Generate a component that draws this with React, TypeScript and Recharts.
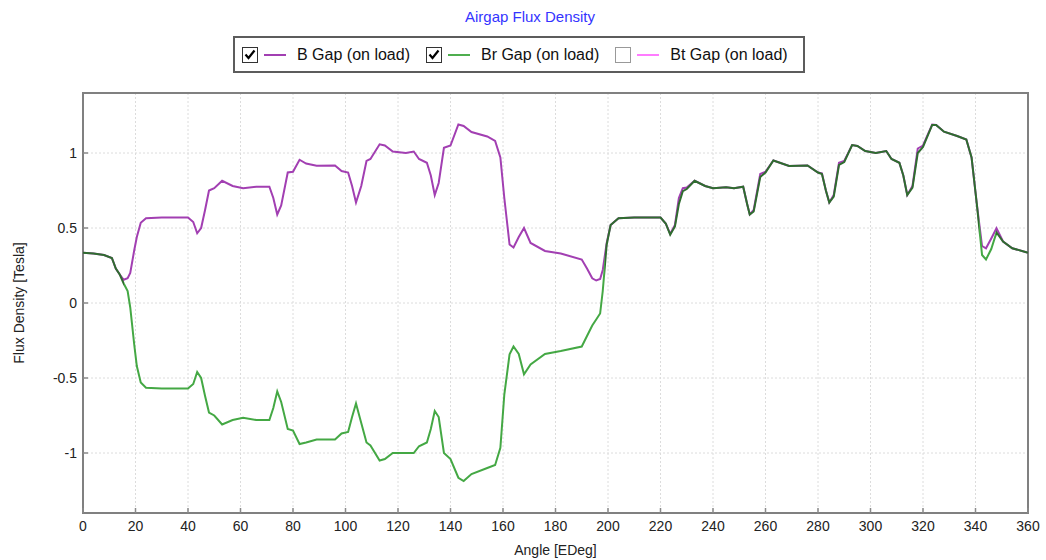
import React from 'react';
import { CartesianGrid, Line, LineChart, ReferenceArea, XAxis, YAxis } from 'recharts';

// angle in electrical degrees, flux density in Tesla
const angles = [
  0, 4, 8, 11, 12.5, 14, 15.5, 17, 18, 19.5, 20.5, 22, 24, 30, 40, 42, 43.5, 45, 46.5, 48, 50, 53, 57, 61, 66,
  71, 72.5, 74, 75.5, 78, 80, 82.5, 85, 89, 96, 98.5, 101, 102.5, 104, 106, 108, 109.5, 113, 115, 118, 123, 126,
  128, 131, 132.5, 134, 135.5, 137.5, 140, 143, 145, 148, 154, 157, 159, 160.5, 162.5, 164, 166, 168, 170.5,
  176, 182, 190, 192, 194, 195.5, 197, 198, 199.5, 201, 204, 210, 220, 222, 223.7, 225.5, 227, 228.5, 230, 233,
  237, 240, 245, 248, 251.5, 253, 254, 255.5, 258, 260, 263, 269, 276, 280, 281.5, 283, 284.3, 286, 288, 290,
  293, 295, 298, 302, 306, 308, 311, 312.5, 314, 316, 318, 320, 323.5, 325, 328, 333, 336.5, 338.5, 340.5,
  342.5, 344, 346, 348, 350.5, 354, 360,
];

const bGap = [
  0.335, 0.33, 0.32, 0.3, 0.23, 0.19, 0.155, 0.165, 0.2, 0.35, 0.44, 0.535, 0.565, 0.57, 0.57, 0.54, 0.465, 0.5,
  0.62, 0.75, 0.765, 0.815, 0.78, 0.765, 0.775, 0.775, 0.7, 0.59, 0.65, 0.87, 0.875, 0.955, 0.93, 0.915, 0.917,
  0.88, 0.87, 0.78, 0.67, 0.78, 0.947, 0.96, 1.058, 1.05, 1.01, 1.0, 1.01, 0.96, 0.935, 0.85, 0.72, 0.8, 1.035,
  1.05, 1.19, 1.18, 1.14, 1.11, 1.08, 0.97, 0.7, 0.39, 0.37, 0.44, 0.5, 0.4, 0.347, 0.33, 0.29, 0.23, 0.165,
  0.15, 0.16, 0.22, 0.4, 0.52, 0.565, 0.57, 0.57, 0.53, 0.46, 0.52, 0.7, 0.765, 0.77, 0.815, 0.78, 0.765, 0.772,
  0.765, 0.775, 0.66, 0.59, 0.62, 0.86, 0.875, 0.95, 0.913, 0.917, 0.87, 0.865, 0.75, 0.67, 0.72, 0.935, 0.947,
  1.053, 1.047, 1.013, 1.0, 1.013, 0.96, 0.935, 0.85, 0.72, 0.78, 1.03, 1.05, 1.19, 1.187, 1.142, 1.113, 1.09,
  0.97, 0.66, 0.38, 0.365, 0.43, 0.498, 0.41, 0.365, 0.335,
];

const brGap = [
  0.335, 0.33, 0.32, 0.3, 0.23, 0.19, 0.13, 0.08, -0.03, -0.275, -0.42, -0.53, -0.565, -0.57, -0.57, -0.54,
  -0.46, -0.5, -0.62, -0.73, -0.75, -0.81, -0.78, -0.765, -0.78, -0.78, -0.7, -0.59, -0.66, -0.84, -0.85, -0.94,
  -0.93, -0.91, -0.91, -0.87, -0.86, -0.76, -0.67, -0.8, -0.93, -0.95, -1.05, -1.04, -1.0, -1.0, -1.0, -0.955,
  -0.93, -0.84, -0.72, -0.76, -1.0, -1.04, -1.165, -1.187, -1.14, -1.1, -1.08, -0.965, -0.61, -0.342, -0.29,
  -0.34, -0.475, -0.41, -0.34, -0.32, -0.29, -0.22, -0.15, -0.11, -0.07, 0.08, 0.39, 0.52, 0.565, 0.57, 0.57,
  0.53, 0.455, 0.51, 0.66, 0.745, 0.76, 0.815, 0.78, 0.765, 0.772, 0.765, 0.775, 0.66, 0.59, 0.61, 0.84, 0.87,
  0.95, 0.913, 0.917, 0.87, 0.86, 0.75, 0.67, 0.71, 0.92, 0.94, 1.053, 1.047, 1.013, 1.0, 1.013, 0.96, 0.935,
  0.85, 0.72, 0.77, 1.0, 1.04, 1.187, 1.187, 1.142, 1.113, 1.09, 0.97, 0.66, 0.32, 0.29, 0.36, 0.47, 0.41,
  0.365, 0.335,
];

const xTicks = [0, 20, 40, 60, 80, 100, 120, 140, 160, 180, 200, 220, 240, 260, 280, 300, 320, 340, 360];
const yTicks = [-1, -0.5, 0, 0.5, 1];

const data = angles.map((a, i) => ({ angle: a, b: bGap[i], br: brGap[i] }));

const FONT = 'Arial, "Liberation Sans", sans-serif';
const TICK_COLOR = '#8a8a8a';

function XTick(props: any) {
  const { x, y, payload } = props;
  return (
    <g>
      <line x1={x} y1={y} x2={x} y2={y - 5} stroke={TICK_COLOR} strokeWidth={1.5} />
      <text x={x} y={y + 18} textAnchor="middle" fontSize={14} fill="#222" fontFamily={FONT}>
        {payload.value}
      </text>
    </g>
  );
}

function YTick(props: any) {
  const { x, y, payload } = props;
  return (
    <g>
      <line x1={x} y1={y} x2={x + 5} y2={y} stroke={TICK_COLOR} strokeWidth={1.5} />
      <text x={x - 6} y={y + 5} textAnchor="end" fontSize={14} fill="#222" fontFamily={FONT}>
        {payload.value}
      </text>
    </g>
  );
}

function CheckBox({ checked }: { checked: boolean }) {
  return (
    <svg width={16} height={16} style={{ display: 'block' }}>
      <rect x={0.5} y={0.5} width={15} height={15} fill="#fff" stroke={checked ? '#333' : '#999'} />
      {checked && <path d="M3.5 7.5 L6.5 11 L12.5 3.5" fill="none" stroke="#000" strokeWidth={2.2} />}
    </svg>
  );
}

const legendItems = [
  { label: 'B Gap (on load)', color: '#a23fb2', checked: true },
  { label: 'Br Gap (on load)', color: '#4fae4f', checked: true },
  { label: 'Bt Gap (on load)', color: '#ff7cff', checked: false },
];

export default function App() {
  return (
    <div style={{ position: 'absolute', left: 0, top: 0, width: 1046, height: 560, background: '#fff', fontFamily: FONT }}>
      <div style={{ position: 'absolute', left: 230, top: 8, width: 600, textAlign: 'center', color: '#3434ff', fontSize: 15 }}>
        Airgap Flux Density
      </div>
      <div
        style={{
          position: 'absolute', left: 233, top: 36, width: 572, height: 37, boxSizing: 'border-box',
          border: '2px solid #5c5c5c', display: 'flex', alignItems: 'center', paddingLeft: 7, fontSize: 16, color: '#111',
          whiteSpace: 'nowrap', overflow: 'hidden',
        }}
      >
        {legendItems.map((it) => (
          <div key={it.label} style={{ display: 'flex', alignItems: 'center', marginRight: 16 }}>
            <CheckBox checked={it.checked} />
            <div style={{ width: 22, height: 2, background: it.color, marginLeft: 6, marginRight: 11 }} />
            <span>{it.label}</span>
          </div>
        ))}
      </div>
      <LineChart width={1046} height={560} data={data} margin={{ top: 93, right: 18, bottom: 7, left: 0 }}>
        <defs>
          <linearGradient id="brStroke" x1="0" y1="0" x2="1" y2="0">
            <stop offset={0} stopColor="#2f6d2f" />
            <stop offset={15.5 / 360} stopColor="#2f6d2f" />
            <stop offset={15.5 / 360} stopColor="#44a844" />
            <stop offset={199 / 360} stopColor="#44a844" />
            <stop offset={199 / 360} stopColor="#2f6d2f" />
            <stop offset={341.5 / 360} stopColor="#2f6d2f" />
            <stop offset={341.5 / 360} stopColor="#44a844" />
            <stop offset={348 / 360} stopColor="#44a844" />
            <stop offset={348 / 360} stopColor="#2f6d2f" />
            <stop offset={1} stopColor="#2f6d2f" />
          </linearGradient>
        </defs>
        <CartesianGrid stroke="#dcdcdc" strokeDasharray="2 2" horizontalValues={yTicks} verticalValues={xTicks} />
        <XAxis
          dataKey="angle"
          type="number"
          domain={[0, 360]}
          ticks={xTicks}
          height={40}
          axisLine={false}
          tickLine={false}
          tickSize={0}
          tickMargin={0}
          tick={<XTick />}
          interval={0}
          label={{ value: 'Angle [EDeg]', position: 'insideBottom', offset: -2, fontSize: 14, fill: '#222', fontFamily: FONT }}
        />
        <YAxis
          type="number"
          domain={[-1.4, 1.4]}
          ticks={yTicks}
          width={83}
          axisLine={false}
          tickLine={false}
          tickSize={0}
          tickMargin={0}
          tick={<YTick />}
          interval={0}
          label={{
            value: 'Flux Density [Tesla]', angle: -90, position: 'insideLeft', offset: 19,
            style: { textAnchor: 'middle' }, fontSize: 14, fill: '#222', fontFamily: FONT,
          }}
        />
        <ReferenceArea x1={0} x2={360} y1={-1.4} y2={1.4} fill="none" stroke="#808080" strokeWidth={2} />
        <Line dataKey="b" type="linear" stroke="#a23fb2" strokeWidth={2} dot={false} isAnimationActive={false} />
        <Line dataKey="br" type="linear" stroke="url(#brStroke)" strokeWidth={2} dot={false} isAnimationActive={false} />
      </LineChart>
    </div>
  );
}
